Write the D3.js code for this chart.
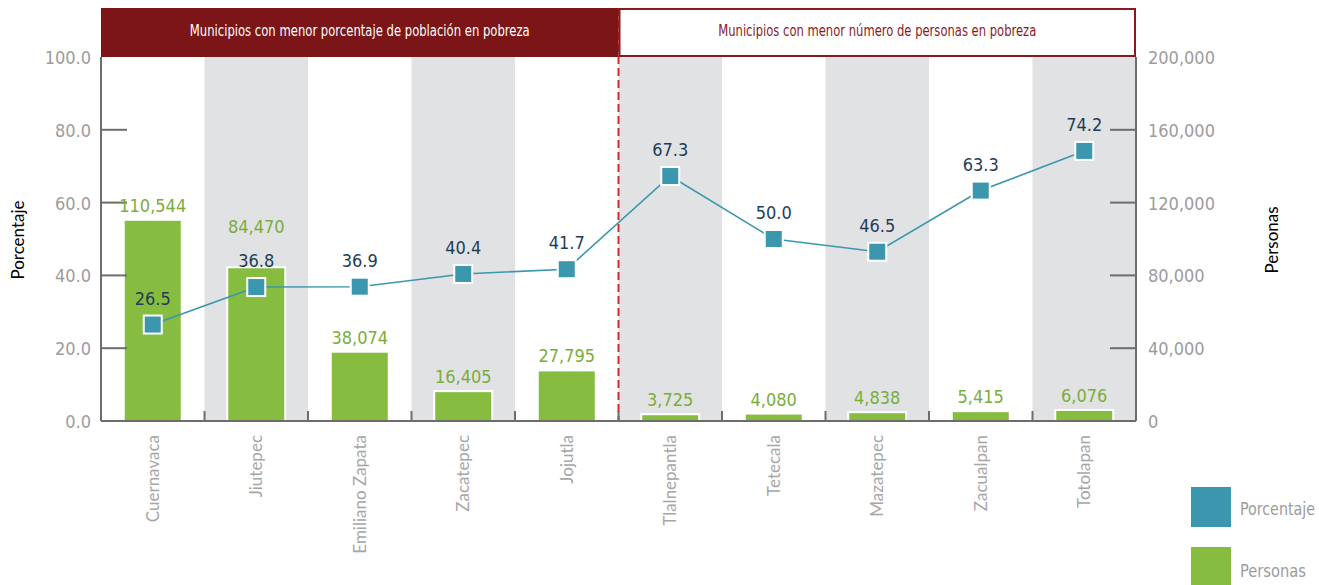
<!doctype html>
<html lang="es">
<head>
<meta charset="utf-8">
<title>Municipios con menor pobreza</title>
<style type="text/css">
html, body { margin:0; padding:0; background:#fff; }
svg text { font-family: "DejaVu Sans Condensed", "Liberation Sans Narrow", sans-serif; }
.cat text { font-family: Lato, "Noto Sans", sans-serif; }
</style>
<script src="https://cdn.jsdelivr.net/npm/d3@7"></script>
</head>
<body>
<svg id="chart" width="1319" height="585"></svg>
<script type="text/javascript">
// data
const categories = ["Cuernavaca", "Jiutepec", "Emiliano Zapata", "Zacatepec", "Jojutla",
	"Tlalnepantla", "Tetecala", "Mazatepec", "Zacualpan", "Totolapan"];
const porcentaje = [26.5, 36.8, 36.9, 40.4, 41.7, 67.3, 50.0, 46.5, 63.3, 74.2];
const personas = [110544, 84470, 38074, 16405, 27795, 3725, 4080, 4838, 5415, 6076];
const leftTicks = [0, 20, 40, 60, 80, 100];
const rightTicks = [0, 40000, 80000, 120000, 160000, 200000];
const groups = ["Municipios con menor porcentaje de población en pobreza",
	"Municipios con menor número de personas en pobreza"];
const legendLabels = ["Porcentaje", "Personas"];

const blue = "#3a97ad", green = "#86bc40", dark = "#7b1518", axisCol = "#6d6d6d";
const pLeft = 101, pRight = 1136, pTop = 57, pBottom = 421;

const svg = d3.select("#chart");
const x = d3.scaleBand().domain(categories).range([pLeft, pRight]);
const yL = d3.scaleLinear().domain([0, 100]).range([pBottom, pTop]);
const yR = d3.scaleLinear().domain([0, 200000]).range([pBottom, pTop]);

// alternate gray bands
svg.append("g").selectAll("rect")
	.data(categories.filter((d, i) => i % 2 === 1))
	.enter().append("rect")
	.attr("x", d => x(d)).attr("width", x.bandwidth())
	.attr("y", 8).attr("height", pBottom - 8)
	.attr("fill", "#e1e2e4");

// bars
const bw = 58;
svg.append("g").selectAll("rect")
	.data(personas)
	.enter().append("rect")
	.attr("x", (d, i) => x(categories[i]) + x.bandwidth() / 2 - bw / 2)
	.attr("width", bw)
	.attr("y", d => yR(d))
	.attr("height", d => pBottom - yR(d))
	.attr("fill", green).attr("stroke", "#fff").attr("stroke-width", 2);

// split line between groups
const split = x(categories[5]);
svg.append("line")
	.attr("x1", split).attr("x2", split).attr("y1", 8).attr("y2", pBottom)
	.attr("stroke", "#d62a2a").attr("stroke-width", 2).attr("stroke-dasharray", "8,4");

// header boxes
svg.append("rect").attr("x", pLeft).attr("y", 8).attr("width", split - pLeft).attr("height", 49)
	.attr("fill", dark);
svg.append("rect").attr("x", split + 1).attr("y", 9).attr("width", pRight - split - 2).attr("height", 47)
	.attr("fill", "#fff").attr("stroke", "#8b1a1e").attr("stroke-width", 2);
svg.append("text").attr("x", (pLeft + split) / 2).attr("y", 36).attr("text-anchor", "middle")
	.attr("fill", "#fff").style("font-size", "15px")
	.attr("textLength", 340).attr("lengthAdjust", "spacingAndGlyphs").text(groups[0]);
svg.append("text").attr("x", (split + pRight) / 2).attr("y", 36).attr("text-anchor", "middle")
	.attr("fill", "#8b1a1e").style("font-size", "15px")
	.attr("textLength", 318).attr("lengthAdjust", "spacingAndGlyphs").text(groups[1]);

// axes
const ga = svg.append("g").attr("stroke", axisCol).attr("stroke-width", 2);
ga.append("line").attr("x1", pLeft).attr("x2", pLeft).attr("y1", pTop).attr("y2", pBottom);
ga.append("line").attr("x1", pRight).attr("x2", pRight).attr("y1", pTop).attr("y2", pBottom);
ga.append("line").attr("x1", pLeft).attr("x2", pRight).attr("y1", pBottom).attr("y2", pBottom);
ga.selectAll(".tl").data(leftTicks.slice(1, -1)).enter().append("line")
	.attr("x1", pLeft).attr("x2", pLeft + 26).attr("y1", d => yL(d)).attr("y2", d => yL(d));
ga.selectAll(".tr").data(rightTicks.slice(1, -1)).enter().append("line")
	.attr("x1", pRight).attr("x2", pRight - 26).attr("y1", d => yR(d)).attr("y2", d => yR(d));
ga.selectAll(".tc").data(categories.slice(1)).enter().append("line")
	.attr("x1", d => x(d)).attr("x2", d => x(d)).attr("y1", pBottom).attr("y2", pBottom - 10);

svg.append("g").selectAll("text").data(leftTicks).enter().append("text")
	.attr("x", 91).attr("y", d => yL(d) + 7).attr("text-anchor", "end")
	.attr("fill", "#9c9c9c").style("font-size", "18px").text(d => d3.format(".1f")(d));
svg.append("g").selectAll("text").data(rightTicks).enter().append("text")
	.attr("x", 1148).attr("y", d => yR(d) + 7)
	.attr("fill", "#9c9c9c").style("font-size", "18px").text(d => d3.format(",")(d));

svg.append("text").attr("transform", "translate(24,240) rotate(-90)").attr("text-anchor", "middle")
	.style("font-family", "Lato, sans-serif").style("font-size", "17px").text("Porcentaje");
svg.append("text").attr("transform", "translate(1278,240) rotate(-90)").attr("text-anchor", "middle")
	.style("font-family", "Lato, sans-serif").style("font-size", "17px").text("Personas");

// category labels
svg.append("g").attr("class", "cat").selectAll("text").data(categories).enter().append("text")
	.attr("transform", d => "translate(" + (x(d) + x.bandwidth() / 2 + 6) + ",435) rotate(-90)")
	.attr("text-anchor", "end").attr("fill", "#a6a6a6").style("font-size", "17px").text(d => d);

// line and markers
const cx = i => x(categories[i]) + x.bandwidth() / 2;
svg.append("path")
	.datum(porcentaje)
	.attr("fill", "none").attr("stroke", blue).attr("stroke-width", 1.6)
	.attr("d", d3.line().x((d, i) => cx(i)).y(d => yL(d)));
svg.append("g").selectAll("rect").data(porcentaje).enter().append("rect")
	.attr("x", (d, i) => cx(i) - 9).attr("y", d => yL(d) - 9)
	.attr("width", 18).attr("height", 18)
	.attr("fill", blue).attr("stroke", "#fff").attr("stroke-width", 2);

// line labels
const lineLabelY = d => yL(d) - 20;
svg.append("g").selectAll("text").data(porcentaje).enter().append("text")
	.attr("x", (d, i) => cx(i)).attr("y", d => lineLabelY(d)).attr("text-anchor", "middle")
	.attr("fill", "#1e3d57").style("font-size", "18px").text(d => d3.format(".1f")(d));

// bar labels, pushed above the line label when they would collide
svg.append("g").selectAll("text").data(personas).enter().append("text")
	.attr("x", (d, i) => cx(i)).attr("text-anchor", "middle")
	.attr("y", (d, i) => {
		let y = yR(d) - 8;
		const ly = lineLabelY(porcentaje[i]);
		if (Math.abs(y - ly) < 24) y = ly - 34;
		return y;
	})
	.attr("fill", "#7aad3a").style("font-size", "18px").text(d => d3.format(",")(d));

// legend
const lg = svg.append("g");
lg.selectAll("rect").data([blue, green]).enter().append("rect")
	.attr("x", 1191).attr("y", (d, i) => 487 + i * 60).attr("width", 40).attr("height", 40)
	.attr("fill", d => d);
lg.selectAll("text").data(legendLabels).enter().append("text")
	.attr("x", 1240).attr("y", (d, i) => 515 + i * 62)
	.attr("fill", "#9c9c9c").style("font-size", "17px")
	.attr("textLength", (d, i) => i === 0 ? 75 : 66).attr("lengthAdjust", "spacingAndGlyphs")
	.text(d => d);
</script>
</body>
</html>
